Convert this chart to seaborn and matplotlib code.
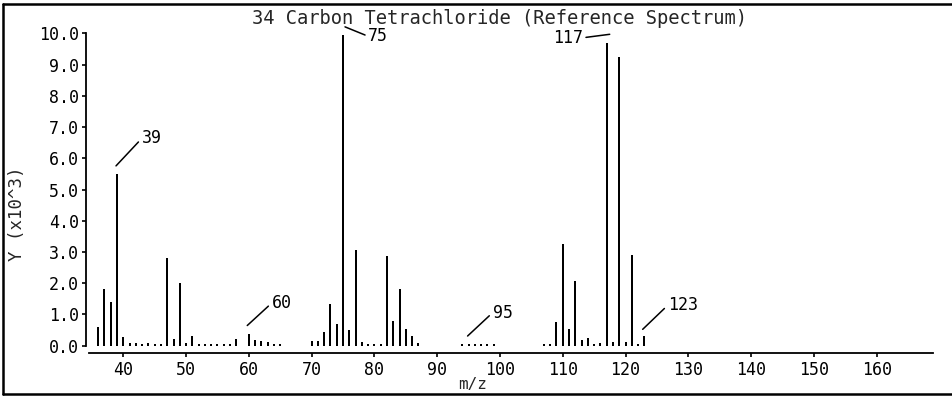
import matplotlib
matplotlib.use("Agg")
import matplotlib.pyplot as plt
from matplotlib.lines import Line2D
from matplotlib.transforms import offset_copy
import seaborn as sns
import pandas as pd

# Mass spectrum of carbon tetrachloride: m/z and abundance (x10^3)
mz = [36, 37, 38, 39, 40, 41, 42, 43, 44, 45, 46, 47, 48, 49, 50, 51, 52, 53,
      54, 55, 56, 57, 58, 60, 61, 62, 63, 64, 65,
      70, 71, 72, 73, 74, 75, 76, 77, 78, 79, 80, 81, 82, 83, 84, 85, 86, 87,
      94, 95, 96, 97, 98, 99,
      107, 108, 109, 110, 111, 112, 113, 114, 115, 116, 117, 118, 119, 120,
      121, 122, 123]
abundance = [0.59, 1.82, 1.39, 5.50, 0.28, 0.10, 0.10, 0.05, 0.08, 0.05, 0.05,
             2.80, 0.21, 2.01, 0.10, 0.32, 0.05, 0.04, 0.04, 0.04, 0.04, 0.05,
             0.21, 0.39, 0.18, 0.14, 0.13, 0.06, 0.05,
             0.14, 0.14, 0.44, 1.33, 0.68, 9.95, 0.49, 3.07, 0.11, 0.04, 0.04,
             0.04, 2.88, 0.79, 1.83, 0.54, 0.31, 0.08,
             0.04, 0.07, 0.04, 0.04, 0.04, 0.04,
             0.07, 0.07, 0.76, 3.24, 0.52, 2.07, 0.19, 0.25, 0.04, 0.08, 9.68,
             0.12, 9.23, 0.12, 2.91, 0.04, 0.30]

labelled_peaks = [39, 60, 75, 95, 117, 123]
x_ticks = [40, 50, 60, 70, 80, 90, 100, 110, 120, 130, 140, 150, 160]
y_ticks = [0, 1, 2, 3, 4, 5, 6, 7, 8, 9, 10]
title = "34 Carbon Tetrachloride (Reference Spectrum)"

sns.set_style("white")
plt.rcParams["font.family"] = ["DejaVu Sans Mono"]
plt.rcParams["font.size"] = 12

W, H = 952, 397
fig = plt.figure(figsize=(W / 100, H / 100), dpi=100)
ax = fig.add_axes([86 / W, (H - 352.7) / H, (933.3 - 86) / W, (352.7 - 33.3) / H])

df = pd.DataFrame({"mz": mz, "abundance": abundance})
sns.barplot(data=df, x="mz", y="abundance", native_scale=True, orient="x",
            color="black", saturation=1, width=0.319, linewidth=0,
            errorbar=None, ax=ax)
# crisp stick spectrum, snapped to whole pixels
for bar in ax.patches:
    bar.set_antialiased(False)
    bar.set_snap(True)

ax.set_xlim(34.06, 169.02)
ax.set_ylim(-0.224, 10.0)
ax.set_xticks(x_ticks)
ax.set_xticklabels([str(t) for t in x_ticks])
ax.set_yticks(y_ticks)
ax.set_yticklabels([f"{t:.1f}" for t in y_ticks])
ax.set_xlabel("")
ax.set_ylabel("")

for side in ("top", "right"):
    ax.spines[side].set_visible(False)
ax.spines["left"].set_bounds(0, 10)
ax.spines["bottom"].set_bounds(34.46, 169.02)
for side in ("left", "bottom"):
    ax.spines[side].set_color("black")
    ax.spines[side].set_linewidth(1.3)
ax.tick_params(axis="both", direction="out", length=3, width=1.2,
               color="black", labelcolor="black", labelsize=12)
ax.tick_params(axis="x", pad=3)
ax.tick_params(axis="y", pad=2)
ax.tick_params(left=True, bottom=True)

# Peak labels: leader start offset above the bar top, then text offset (pixels)
height = dict(zip(mz, abundance))
label_style = {
    39: dict(start=(-1, 8), text=(25.7, 27.4), ha="left", rel=(0, 0.5)),
    60: dict(start=(-1.6, 8), text=(24.4, 22.4), ha="left", rel=(0, 0.5)),
    75: dict(start=(2, 8), text=(23.3, -9.5), ha="left", rel=(0, 0.5)),
    95: dict(start=(-1, 7.5), text=(25, 23.3), ha="left", rel=(0, 0.5)),
    117: dict(start=(3, 9), text=(-27, -3.5), ha="right", rel=(1, 0.5)),
    123: dict(start=(-1.7, 7), text=(25, 24), ha="left", rel=(0, 0.5)),
}
for peak in labelled_peaks:
    st = label_style[peak]
    anchor = offset_copy(ax.transData, fig=fig, x=st["start"][0],
                         y=st["start"][1], units="dots")
    ax.annotate(str(peak), xy=(peak, height[peak]), xycoords=anchor,
                xytext=st["text"], textcoords="offset pixels",
                ha=st["ha"], va="center", fontsize=12, color="black",
                annotation_clip=False,
                arrowprops=dict(arrowstyle="-", color="black", lw=1.1,
                                shrinkA=0, shrinkB=0, relpos=st["rel"]))

fig.text(500 / W, 1 - 19 / H, title, ha="center", va="center", fontsize=13.5)
fig.text(17 / W, 1 - 214 / H, "Y (x10^3)", rotation=90, ha="center",
         va="center", fontsize=12.5)
fig.text(473 / W, 1 - 377 / H, "m/z", ha="center", va="top", fontsize=11.5)

# Page frame on the left, top and bottom
frame = dict(color="black", lw=1.8, transform=fig.transFigure)
fig.add_artist(Line2D([3 / W, 3 / W], [1 - 4 / H, 1 - 394 / H], **frame))
fig.add_artist(Line2D([3 / W, 1.0], [1 - 4 / H, 1 - 4 / H], **frame))
fig.add_artist(Line2D([3 / W, 1.0], [1 - 394 / H, 1 - 394 / H], **frame))

fig.savefig("out.png", dpi=100)
